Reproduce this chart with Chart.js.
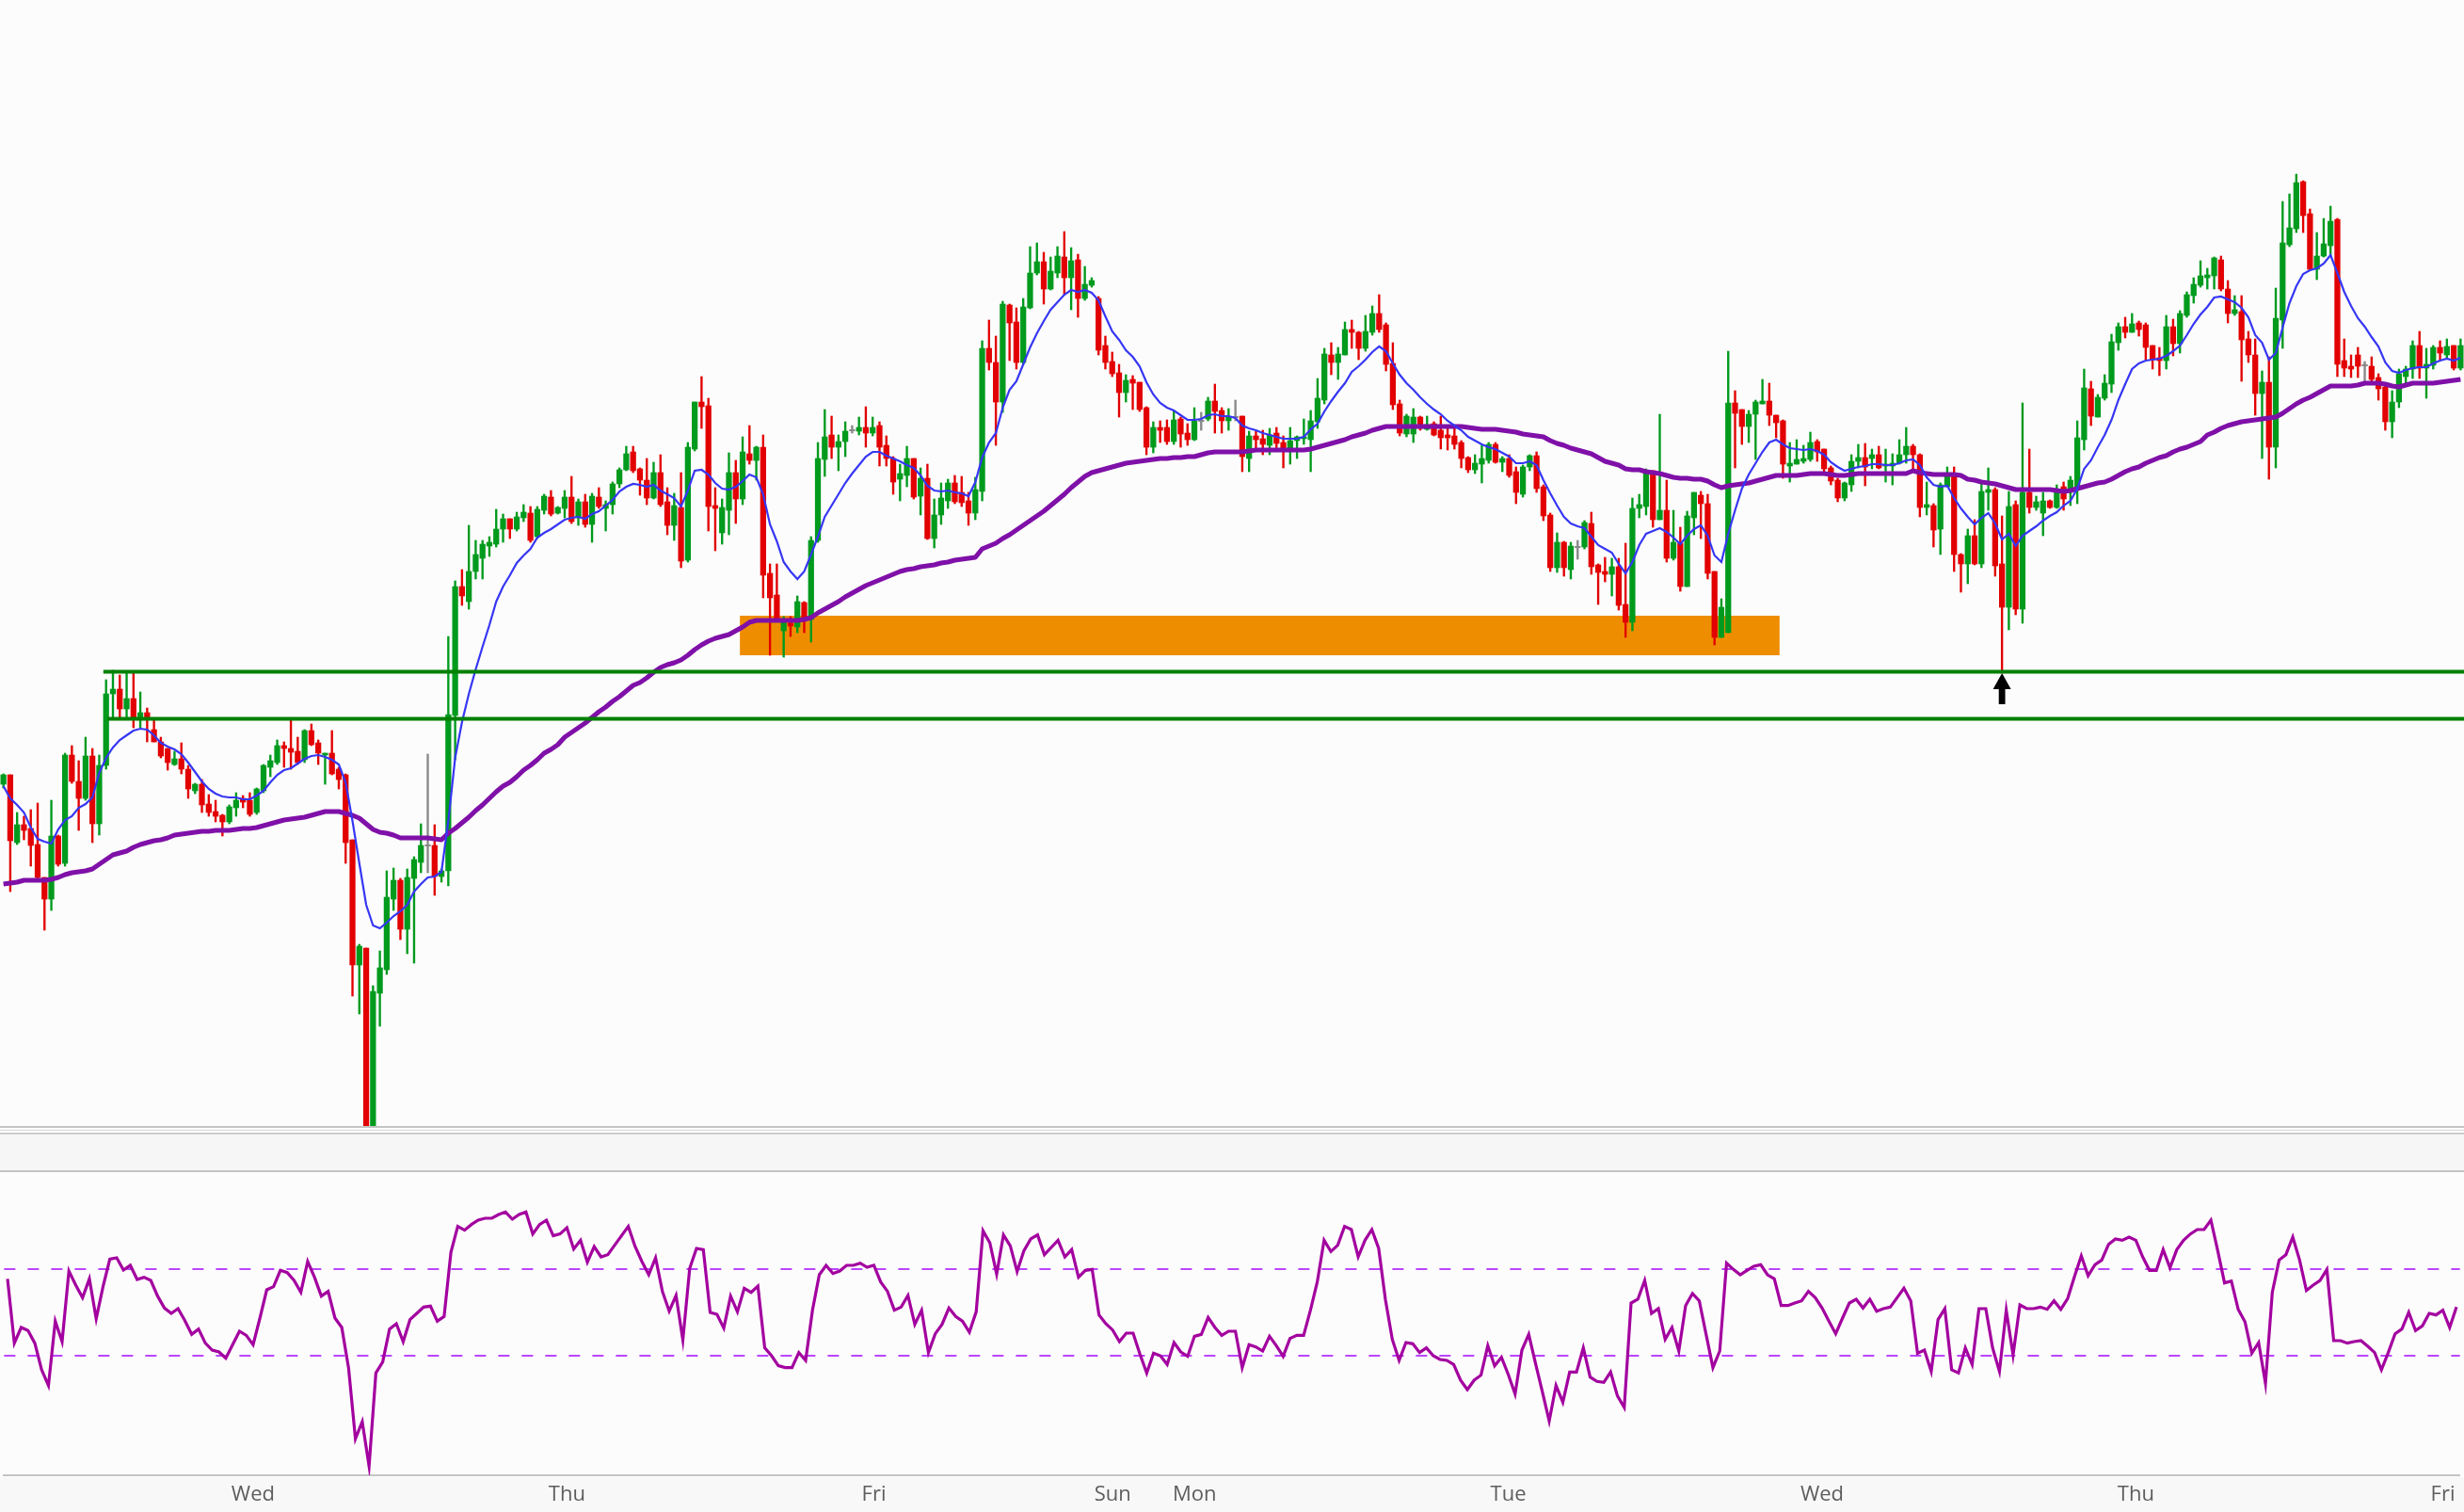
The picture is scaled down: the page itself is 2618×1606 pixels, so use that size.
<!DOCTYPE html>
<html lang="en">
<head>
<meta charset="UTF-8">
<title>Candles with moving averages and oscillator</title>
<script src="https://cdn.jsdelivr.net/npm/chart.js"></script>
<style>
  html, body { margin: 0; padding: 0; background: #fcfcfc; }
  #wrap { position: relative; width: 2618px; height: 1606px; overflow: hidden; background: #fcfcfc; }
  #price { position: absolute; left: 0; top: 0; }
  #osc { position: absolute; left: 0; top: 1245px; }
  .rule { position: absolute; left: 0; width: 2618px; }
</style>
</head>
<body>
<div id="wrap">
  <canvas id="price" width="2618" height="1196"></canvas>
  <!-- panel separator -->
  <div class="rule" style="top:1196px;height:2px;background:#c4c4c4"></div>
  <div class="rule" style="top:1200px;height:1px;background:#d6d6d6"></div>
  <div class="rule" style="top:1203px;height:2px;background:#cdcdcd"></div>
  <div class="rule" style="top:1205px;height:38px;background:#f6f6f6"></div>
  <div class="rule" style="top:1243px;height:2px;background:#c4c4c4"></div>
  <div class="rule" style="top:1569px;height:37px;background:#f8f8f8"></div>
  <canvas id="osc" width="2618" height="361"></canvas>
</div>

<script>
// --- DATA (30 min bars, price in chart points) ---
const opens = [
  364,374,302,321,317,300,265,242,309,280, 395,367,349,394,322,384,460,465,444,455,
  435,440,422,409,402,385,391,380,357,364, 343,335,331,324,339,349,347,334,357,382,
  387,405,402,399,390,421,408,395,397,380, 374,305,172,190,-10,142,167,242,262,210,
  264,281,
  299,299,266,272,437,574,558,590,604,617, 619,635,646,635,647,652,627,655,669,652,
  657,669,647,664,640,669,657,661,683,698, 717,699,687,668,695,664,639,658,602,720,
  770,766,660,631,655,695,667,715,708,722, 588,565,527,535,531,557,539,623,709,
  735,722,728,740,739,743,737,745,724,710, 688,692,710,670,689,625,650,665,684,674,
  665,652,675,827,812,770,873,855,812,870, 907,919,890,907,924,902,921,880,894,880,
  830,813,801,780,794,791,764,722,743,743, 728,752,737,730,750,752,771,761,750,
  754,755,710,734,731,724,737,727,720,729, 731,730,749,772,820,812,820,847,844,827,
  844,864,852,811,768,736,736,754,741,747, 740,735,734,727,711,698,704,708,725,706,
  710,696,672,701,713,680,650,594,621,592, 616,616,641,597,590,587,595,555,536,657,
  659,
  697,645,655,604,620,574,647,671,662,590, 520,525,769,762,744,757,768,771,756,750,
  702,704,707,709,728,720,700,687,668,682, 707,711,710,714,702,702,705,714,723,714,
  658,660,635,680,694,608,598,628,598,674, 677,598,552,661,550,674,658,652,665,658,
  680,674,677,730,784,754,774,789,833,850, 844,854,852,830,817,814,850,832,862,883,
  894,902,904,921,890,864,866,837,820,779, 791,722,857,937,954,1004,970,911,925,936,
  964,814,808,820,809,808,796,786,749,770, 797,805,830,806,809,828,820,830,806
];
const highs = [
  375,374,334,330,337,344,265,347,310,397, 405,389,414,402,395,475,485,480,484,482,
  462,445,432,414,402,399,408,384,365,369, 353,347,332,342,355,352,355,360,385,395,
  411,409,432,414,422,428,411,397,421,382, 375,305,194,190,150,187,272,275,264,274,
  287,322,
  396,321,274,521,580,592,639,623,623,627, 656,651,646,653,661,659,659,672,676,659,
  676,691,667,672,673,679,665,685,700,723, 723,700,710,706,714,679,673,695,727,770,
  797,774,679,667,716,708,733,745,723,735, 598,598,542,542,564,558,627,727,762,
  755,735,749,745,754,765,754,749,734,712, 704,723,710,700,704,667,684,688,692,691,
  674,690,835,857,840,877,874,870,880,935, 939,929,924,935,951,934,927,914,902,882,
  840,823,810,799,798,791,765,749,750,751, 761,754,747,764,759,775,789,764,763,
  772,755,739,739,740,742,743,734,743,734, 752,761,795,827,833,828,855,857,845,862,
  872,884,854,833,772,757,763,755,755,749, 755,742,742,729,712,714,724,727,727,712,
  714,701,703,714,717,682,652,631,622,621, 623,644,653,598,605,604,604,620,668,672,
  699,
  697,757,687,655,637,654,674,675,672,590, 561,824,782,762,761,772,794,790,756,751,
  727,730,724,738,730,720,702,689,685,714, 725,726,720,723,720,715,730,743,725,715,
  685,662,684,701,701,609,635,645,684,700, 679,649,675,665,769,720,670,674,666,682,
  685,691,750,805,792,778,799,842,854,860, 864,856,854,830,828,862,858,867,887,902,
  920,912,924,925,899,883,883,845,837,803, 818,891,983,991,1012,1005,975,950,965,978,
  965,837,820,828,813,818,800,789,782,805, 808,835,845,827,830,835,837,830,837
];
const lows = [
  360,250,300,305,277,264,209,230,277,277, 365,315,347,302,310,380,435,435,435,424,
  424,409,409,392,379,384,375,349,354,334, 330,324,309,322,330,339,330,332,355,372,
  385,382,380,385,387,405,385,364,374,359, 280,139,120,-30,-30,107,162,230,199,184,
  174,270,
  270,246,260,256,390,554,550,582,582,606, 616,621,625,633,643,621,625,651,649,651,
  647,641,639,637,621,657,633,651,679,697, 695,671,661,667,659,629,623,594,600,718,
  742,633,612,619,629,641,661,704,687,562, 501,540,499,521,525,525,515,621,691,
  710,697,712,737,735,722,734,702,702,672, 665,680,667,650,624,615,640,657,662,659,
  639,645,665,804,724,759,814,805,810,869, 905,874,889,902,884,868,860,878,892,820,
  805,797,754,770,762,760,714,716,727,725, 725,722,724,729,740,750,737,737,740,
  750,696,696,720,714,714,719,700,704,710, 725,696,742,768,799,794,820,827,815,824,
  841,844,803,762,734,733,727,740,740,734, 720,719,720,700,695,694,684,705,705,696,
  690,662,669,697,674,644,590,589,585,582, 603,614,587,555,579,564,549,520,527,647,
  650,
  637,645,600,602,569,574,629,625,582,512, 520,525,700,725,727,709,768,745,732,689,
  685,704,705,707,707,695,682,664,665,675, 700,681,699,699,685,682,704,705,697,648,
  650,616,608,680,590,568,577,597,594,655, 585,484,528,544,535,652,655,628,657,657,
  655,660,662,719,745,754,772,780,825,838, 844,840,815,805,798,805,819,822,860,875,
  892,890,890,888,854,862,792,812,756,710, 688,700,827,935,950,950,910,900,924,925,
  797,797,796,796,792,790,772,740,732,764, 790,795,795,774,805,814,817,804,804
];
const closes = [
  374,304,321,315,299,265,242,309,279,395, 367,349,394,322,384,460,465,444,455,435,
  440,434,409,394,387,391,380,359,364,342, 334,330,324,340,347,345,332,359,384,389,
  405,402,398,387,421,406,397,397,375,369, 302,172,192,-10,144,169,244,262,210,265,
  284,299,
  299,266,272,438,574,564,590,608,619,621, 635,646,635,648,653,623,656,670,651,658,
  669,643,664,640,670,659,661,683,698,715, 697,687,668,695,661,639,660,601,722,770,
  765,659,657,658,695,667,717,708,722,586, 562,540,536,532,558,540,623,710,733,
  722,728,739,740,743,737,743,722,710,685, 694,710,669,689,625,650,668,684,664,663,
  652,677,827,812,770,874,854,812,871,907, 919,890,909,925,902,920,880,895,899,825,
  812,800,780,793,790,762,722,743,740,728, 751,736,730,750,750,771,760,750,754,
  754,712,734,730,725,735,726,720,729,733, 733,750,774,821,812,821,847,844,827,845,
  864,847,810,767,737,755,754,742,746,735, 732,732,725,710,698,705,710,725,706,710,
  692,674,701,713,678,649,594,621,594,617, 616,642,595,589,587,595,554,536,657,661,
  696,
  645,655,604,621,574,649,674,662,588,520, 552,769,758,744,757,770,771,756,748,704,
  705,709,710,727,717,699,686,668,684,707, 711,701,714,700,704,705,714,723,714,658,
  661,634,682,694,608,598,628,598,675,677, 596,552,659,550,674,658,664,665,658,677,
  667,687,732,785,755,775,790,834,850,844, 853,847,828,815,814,850,832,864,884,895,
  904,905,923,890,864,868,836,820,779,791, 722,859,939,955,1003,968,911,925,938,962,
  810,806,805,808,809,794,784,749,770,800, 805,830,806,810,828,822,829,806,830
];
// fast (blue) and slow (purple) moving averages
const fastMa = [
  362,349,342,334,318,306,303,301,316,326, 330,339,343,350,376,392,403,411,416,421,
  423,422,416,408,404,401,396,387,377,367, 359,354,351,350,350,348,348,352,357,366,
  374,379,381,386,391,394,395,393,390,385, 366,325,280,236,214,211,217,224,229,236,
  250,258,
  265,266,271,325,392,430,460,486,510,533, 558,574,586,599,607,614,626,631,635,640,
  645,647,648,646,651,654,660,666,675,680, 683,682,680,682,676,672,668,659,676,697,
  698,693,684,678,677,680,686,693,690,672, 640,622,600,590,582,590,608,627,648,
  660,672,684,694,703,712,717,717,713,710, 707,703,700,692,681,676,675,676,674,673,
  670,685,711,727,737,764,783,792,810,828, 843,856,868,876,884,889,887,889,886,878,
  861,845,836,825,818,808,791,778,769,764, 761,756,751,751,752,756,757,755,755,
  753,745,742,740,737,735,733,731,731,731, 733,741,747,760,771,781,790,802,808,815,
  823,829,824,811,799,790,783,775,768,762, 757,750,745,740,733,729,725,722,720,716,
  712,705,705,707,703,687,673,660,648,641, 638,636,627,618,614,610,598,588,600,618,
  630,
  633,636,632,626,619,628,635,639,628,607, 600,630,655,678,693,705,717,727,730,725,
  721,720,719,720,718,714,706,701,697,699, 701,702,704,704,703,703,705,708,709,703,
  690,682,680,681,668,657,648,640,647,652, 641,624,630,617,628,633,638,644,649,653,
  660,665,678,699,708,722,735,751,772,789, 805,811,814,815,816,819,824,830,841,853,
  863,871,881,882,879,876,870,860,841,833, 815,822,849,875,893,906,910,912,917,926,
  907,887,872,859,850,839,829,812,803,801, 804,806,807,807,811,814,816,814,817
];
const slowMa = [
  258,259,260,262,262,262,262,263,265,268, 270,271,272,274,279,284,289,291,293,297,
  300,302,304,305,307,310,311,312,313,314, 314,315,315,315,316,317,317,318,320,322,
  324,326,327,328,329,331,333,335,335,335, 333,331,328,322,316,313,312,310,307,307,
  307,307,
  307,306,305,312,317,323,329,336,342,349, 356,362,366,372,379,384,390,397,401,406,
  414,419,424,429,435,441,446,452,457,463, 469,472,477,483,488,491,493,496,501,507,
  512,516,519,521,523,527,531,536,538,538, 538,538,538,538,538,539,541,546,550,
  554,558,563,567,571,575,578,581,584,587, 590,592,593,595,596,597,599,600,602,603,
  604,605,614,617,620,625,629,634,639,644, 649,654,660,666,672,679,685,691,695,697,
  699,701,703,705,706,707,708,709,710,710, 711,711,712,712,714,716,717,717,717,
  717,717,718,719,719,719,719,719,719,719, 719,720,722,724,726,728,730,733,735,737,
  740,742,744,744,744,744,744,744,744,744, 744,744,744,744,743,742,741,741,741,740,
  739,738,736,735,734,733,729,726,724,721, 719,717,715,711,707,705,703,699,698,698,
  696,
  695,694,692,690,689,689,688,688,686,682, 679,681,682,683,684,686,688,690,692,692,
  692,692,693,694,694,694,693,692,692,693, 694,694,694,694,694,694,694,694,697,695,
  694,693,693,693,693,692,688,687,685,684, 683,681,679,677,677,677,677,677,677,676,
  675,676,678,680,682,684,685,688,692,696, 699,701,705,708,711,713,717,720,722,725,
  728,735,738,742,745,747,749,750,751,752, 753,754,758,763,768,772,775,779,783,787,
  787,787,787,788,790,790,790,789,787,786, 788,790,790,790,790,791,792,793,794
];
// oscillator, panel units (0 = bottom of lower panel)
const oscValues = [
  62.6,
  42.1,47.1,46.1,42.1,33.6,28.6,49.1,42.6,65.1,60.6, 56.6,62.6,49.9,60.1,68.9,69.3,65.4,66.9,62.4,63.1,
  62.1,57.1,53.3,51.6,53.1,49.3,44.9,46.6,42.1,39.9, 39.3,37.3,41.6,45.9,44.6,41.6,50.1,59.1,60.1,65.3,
  64.6,62.1,58.3,68.1,63.1,57.1,58.6,50.1,47.1,34.1, 11.6,17.1,2.9,32.6,36.1,46.6,48.3,42.6,49.6,51.6,
  53.6,53.9,49.1,50.6,71.1,79.3,78.1,79.9,81.3,81.9, 81.9,83.1,83.9,81.6,83.1,83.9,76.9,79.9,81.3,76.3,
  76.9,78.9,72.1,74.9,67.9,72.9,69.6,70.3,73.3,76.3, 79.3,72.9,68.1,63.9,69.3,58.6,52.3,57.3,43.1,65.9,
  72.3,71.9,51.9,51.3,46.9,57.1,52.1,59.6,58.3,60.3, 40.6,38.1,34.9,34.3,34.3,39.1,36.6,52.6,63.9,66.9,
  64.3,65.1,66.9,
  66.9,67.6,66.3,66.9,61.6,58.6,52.6,53.6,57.3,48.1, 52.6,39.1,45.1,48.1,53.3,50.6,49.1,45.6,52.1,77.9,
  74.1,64.1,76.6,73.1,64.9,71.6,75.3,76.6,70.3,72.6, 74.9,69.6,71.9,63.1,65.3,65.6,51.1,48.3,46.3,42.6,
  45.3,45.3,38.6,32.6,38.9,38.1,35.3,42.3,39.3,37.9, 44.3,44.9,50.3,47.1,44.6,45.9,45.9,34.3,41.6,40.9,
  39.6,44.3,41.3,37.9,43.6,44.6,44.6,52.6,61.6,74.9, 71.3,73.3,79.3,78.3,69.6,74.9,78.3,72.3,55.9,43.3,
  36.6,42.3,41.9,39.1,40.6,38.1,36.9,36.6,35.3,30.3, 27.3,30.3,31.9,41.3,34.9,37.6,32.1,25.9,39.9,44.9,
  35.6,26.6,17.3,28.6,23.3,32.9,32.9,40.6,31.3,29.9, 29.6,32.9,25.3,21.6,54.9,56.1,62.1,51.6,53.1,43.3,
  47.1,39.6,54.1,
  57.9,55.6,44.9,34.3,39.6,67.6,65.6,63.9,65.3,66.6, 67.1,63.9,62.6,54.1,54.1,54.9,55.6,58.6,56.6,53.3,
  49.1,45.1,50.1,54.9,56.1,53.3,56.1,52.3,53.1,53.6, 56.6,59.6,55.6,38.9,39.9,33.1,49.6,53.1,33.6,32.6,
  40.6,35.3,53.1,53.1,40.6,33.1,52.6,38.3,54.3,53.1, 53.1,53.6,52.9,55.6,52.9,56.3,63.3,69.9,63.6,67.1,
  68.6,73.6,75.3,74.9,75.9,74.9,69.6,65.3,65.3,71.9, 66.1,71.9,74.9,76.9,78.3,78.3,81.3,71.6,61.3,61.9,
  52.9,48.9,38.9,42.3,29.3,58.3,68.6,70.3,75.9,68.6, 58.9,60.6,62.1,65.6,42.9,42.9,42.1,42.6,42.9,41.1,
  39.1,33.6,39.1,45.1,46.6,51.9,46.1,47.6,51.6,51.1, 52.6,47.1,53.6
];
const oscLevels = [65.6, 38.1];

// day labels on the time axis (bar index where each day starts)
const dayIndex = [36, 82, 127, 162, 174, 220, 266, 312, 357];
const dayNames = ['Wed', 'Thu', 'Fri', 'Sun', 'Mon', 'Tue', 'Wed', 'Thu', 'Fri'];

// drawn objects on the price panel
const levelPrices = [483.5, 433.5];   // support lines
const levelStart = [14.6, 15.2];       // bar where each line starts
const zoneBars = [107.6, 259.5];       // orange demand zone, bar range
const zonePrices = [501, 543];         // zone low / high
const arrowBar = 292;
const arrowTipPrice = 482;

// --- BUILD ---
const barLabels = opens.map(() => '');
dayIndex.forEach((idx, k) => { barLabels[idx] = dayNames[k]; });

const UP = '#009a1d', DOWN = '#e20000', FLAT = '#888888';
const candleColors = opens.map((o, i) => closes[i] > o ? UP : (closes[i] < o ? DOWN : FLAT));
const bodies = opens.map((o, i) => o === closes[i] ? [o - 0.7, o + 0.7] : [o, closes[i]]);
const wicks = lows.map((l, i) => [l, highs[i]]);

const overlayPlugin = {
  id: 'overlays',
  beforeDatasetsDraw(chart) {
    const { ctx, scales: { x, y } } = chart;
    const x0 = x.getPixelForValue(zoneBars[0]), x1 = x.getPixelForValue(zoneBars[1]);
    const yTop = y.getPixelForValue(zonePrices[1]), yBot = y.getPixelForValue(zonePrices[0]);
    ctx.save();
    ctx.fillStyle = '#ef8d00';
    ctx.fillRect(x0, yTop, x1 - x0, yBot - yTop);
    ctx.restore();
  },
  afterDatasetsDraw(chart) {
    const { ctx, chartArea, scales: { x, y } } = chart;
    ctx.save();
    ctx.strokeStyle = '#008000';
    ctx.lineWidth = 4;
    levelPrices.forEach((p, k) => {
      const yy = y.getPixelForValue(p);
      ctx.beginPath();
      ctx.moveTo(x.getPixelForValue(levelStart[k]), yy);
      ctx.lineTo(chartArea.right, yy);
      ctx.stroke();
    });
    // up arrow under the spike low
    const ax = x.getPixelForValue(arrowBar);
    const ay = y.getPixelForValue(arrowTipPrice);
    ctx.fillStyle = '#000000';
    ctx.beginPath();
    ctx.moveTo(ax, ay);
    ctx.lineTo(ax + 9.5, ay + 17);
    ctx.lineTo(ax + 3.4, ay + 17);
    ctx.lineTo(ax + 3.4, ay + 33);
    ctx.lineTo(ax - 3.4, ay + 33);
    ctx.lineTo(ax - 3.4, ay + 17);
    ctx.lineTo(ax - 9.5, ay + 17);
    ctx.closePath();
    ctx.fill();
    ctx.restore();
  }
};

new Chart(document.getElementById('price'), {
  type: 'bar',
  data: {
    labels: barLabels,
    datasets: [
      { type: 'line', label: 'Fast MA', data: fastMa, borderColor: '#3636f4', borderWidth: 2.2,
        pointRadius: 0, tension: 0, fill: false, order: 1, clip: 0 },
      { type: 'line', label: 'Slow MA', data: slowMa, borderColor: '#7f10a8', borderWidth: 5,
        pointRadius: 0, tension: 0, fill: false, order: 2, clip: 0, borderJoinStyle: 'round' },
      { label: 'Body', data: bodies, backgroundColor: candleColors, barThickness: 5.6,
        grouped: false, order: 3, clip: 0 },
      { label: 'Wick', data: wicks, backgroundColor: candleColors, barThickness: 1.7,
        grouped: false, order: 4, clip: 0 }
    ]
  },
  options: {
    responsive: false,
    animation: false,
    devicePixelRatio: 1,
    layout: { padding: 0 },
    plugins: { legend: { display: false }, tooltip: { enabled: false } },
    scales: {
      x: { display: false, offset: true },
      y: { display: false, min: 1, max: 1197 }
    }
  },
  plugins: [overlayPlugin]
});

const levelPlugin = {
  id: 'oscLevels',
  beforeDatasetsDraw(chart) {
    const { ctx, chartArea, scales: { y } } = chart;
    ctx.save();
    ctx.strokeStyle = '#bb44ff';
    ctx.lineWidth = 2;
    ctx.setLineDash([12, 13]);
    oscLevels.forEach(v => {
      const yy = Math.round(y.getPixelForValue(v));
      ctx.beginPath();
      ctx.moveTo(chartArea.left, yy);
      ctx.lineTo(chartArea.right, yy);
      ctx.stroke();
    });
    ctx.restore();
  }
};

new Chart(document.getElementById('osc'), {
  type: 'line',
  data: {
    labels: barLabels,
    datasets: [
      { label: 'Oscillator', data: oscValues, borderColor: '#a3009f', borderWidth: 3.2,
        pointRadius: 0, tension: 0, fill: false, clip: 0 }
    ]
  },
  options: {
    responsive: false,
    animation: false,
    devicePixelRatio: 1,
    layout: { padding: 0 },
    plugins: { legend: { display: false }, tooltip: { enabled: false } },
    scales: {
      x: {
        offset: true,
        grid: { display: false, drawTicks: false },
        border: { display: true, color: '#c4c4c4', width: 2 },
        ticks: {
          autoSkip: false, maxRotation: 0, minRotation: 0, padding: 8,
          color: '#5d5d5d',
          font: { family: '"Open Sans", "Noto Sans", sans-serif', size: 22 },
          callback: (v, i) => barLabels[i]
        },
        afterFit: s => { s.height = 39; }
      },
      y: { display: false, min: 0, max: 96.6 }
    }
  },
  plugins: [levelPlugin]
});
</script>
</body>
</html>
